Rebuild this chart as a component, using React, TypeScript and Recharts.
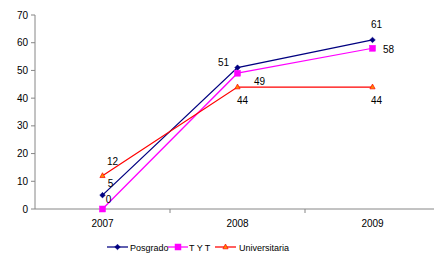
import React from 'react';
import { LineChart, Line, XAxis, YAxis, LabelList } from 'recharts';

const categories = ['2007', '2008', '2009'];
const posgrado = [5, 51, 61];
const tyt = [0, 49, 58];
const universitaria = [12, 44, 44];
const yTicks = [0, 10, 20, 30, 40, 50, 60, 70];

const data = categories.map((c, i) => ({
  x: i + 0.5,
  year: c,
  posgrado: posgrado[i],
  tyt: tyt[i],
  universitaria: universitaria[i],
}));

const FONT = '"Liberation Sans", Arial, sans-serif';
const AXIS = '#868686';
const NAVY = '#000080';
const MAGENTA = '#FF00FF';
const RED = '#FF0000';

const offsets: Record<string, [number, number][]> = {
  posgrado: [[8, -12], [-14, -5], [4, -15]],
  tyt: [[6, -10], [22, 8], [16, 1]],
  universitaria: [[10, -14], [5, 13], [4, 13]],
};

const makeLabel = (key: string) => (props: any) => {
  const { x, y, value, index } = props;
  const [dx, dy] = offsets[key][index] || [0, 0];
  return (
    <text x={x + dx} y={y + dy} textAnchor="middle" dominantBaseline="central" fontSize={10} fontFamily={FONT} fill="#000">
      {value}
    </text>
  );
};

const Diamond = ({ cx, cy }: any) => (
  <polygon points={`${cx},${cy - 2.8} ${cx + 2.8},${cy} ${cx},${cy + 2.8} ${cx - 2.8},${cy}`} fill={NAVY} stroke={NAVY} strokeWidth={0.5} />
);
const Square = ({ cx, cy }: any) => (
  <rect x={cx - 3} y={cy - 3} width={6} height={6} fill={MAGENTA} stroke={MAGENTA} strokeWidth={0.5} />
);
const Triangle = ({ cx, cy }: any) => (
  <polygon points={`${cx},${cy - 3} ${cx + 2.6},${cy + 1.8} ${cx - 2.6},${cy + 1.8}`} fill="#FF8800" stroke={RED} strokeWidth={0.7} />
);

const XTick = (props: any) => {
  const { x, y, payload } = props;
  const v = payload.value;
  if (Number.isInteger(v)) {
    return <line x1={x} y1={y} x2={x} y2={y + 4} stroke={AXIS} strokeWidth={1} />;
  }
  const idx = Math.floor(v);
  return (
    <text x={x} y={y + 18} textAnchor="middle" fontSize={10} fontFamily={FONT} fill="#000">
      {categories[idx]}
    </text>
  );
};

const LegendSvg = () => (
  <svg width={434} height={17} style={{ position: 'absolute', left: 0, top: 238 }}>
    <g fontFamily={FONT} fontSize={9} fill="#000">
      <line x1={107} y1={9} x2={128} y2={9} stroke={NAVY} strokeWidth={1.25} />
      <Diamond cx={117.5} cy={9} />
      <text x={130} y={12.5}>Posgrado</text>
      <line x1={168} y1={9} x2={188} y2={9} stroke={MAGENTA} strokeWidth={1.25} />
      <Square cx={178} cy={9} />
      <text x={189} y={12.5}>T Y T</text>
      <line x1={215} y1={9} x2={236} y2={9} stroke={RED} strokeWidth={1.25} />
      <Triangle cx={225.5} cy={9} />
      <text x={239} y={12.5}>Universitaria</text>
    </g>
  </svg>
);

export default function App() {
  return (
    <div style={{ position: 'absolute', left: 0, top: 0, width: 434, height: 255, overflow: 'hidden', background: '#fff' }}>
      <LineChart width={440} height={255} data={data} margin={{ top: 15, right: 0, left: 0, bottom: 26 }}>
        <XAxis
          dataKey="x"
          type="number"
          domain={[0, 3]}
          ticks={[0.5, 1, 1.5, 2, 2.5]}
          interval={0}
          tickLine={false}
          tickSize={0}
          tickMargin={0}
          tick={<XTick />}
          axisLine={{ stroke: AXIS }}
          height={20}
        />
        <YAxis
          domain={[0, 70]}
          ticks={yTicks}
          interval={0}
          width={35}
          tickSize={4}
          tickMargin={3}
          axisLine={{ stroke: AXIS }}
          tickLine={{ stroke: AXIS }}
          tick={{ fontSize: 10, fontFamily: FONT, fill: '#000' }}
        />
        <Line dataKey="posgrado" stroke={NAVY} strokeWidth={1.25} dot={<Diamond />} activeDot={false} isAnimationActive={false}>
          <LabelList dataKey="posgrado" content={makeLabel('posgrado')} />
        </Line>
        <Line dataKey="tyt" stroke={MAGENTA} strokeWidth={1.25} dot={<Square />} activeDot={false} isAnimationActive={false}>
          <LabelList dataKey="tyt" content={makeLabel('tyt')} />
        </Line>
        <Line dataKey="universitaria" stroke={RED} strokeWidth={1.25} dot={<Triangle />} activeDot={false} isAnimationActive={false}>
          <LabelList dataKey="universitaria" content={makeLabel('universitaria')} />
        </Line>
      </LineChart>
      <LegendSvg />
    </div>
  );
}
